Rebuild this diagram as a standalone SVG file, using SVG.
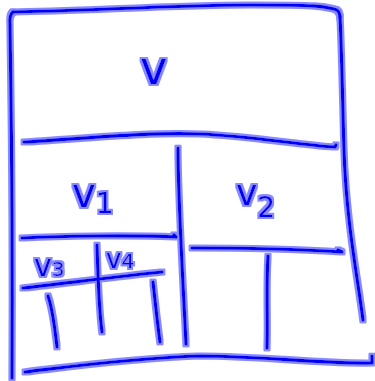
<svg xmlns="http://www.w3.org/2000/svg" width="375" height="381" viewBox="0 0 375 381">
<defs>
<filter id="glow" filterUnits="userSpaceOnUse" x="0" y="0" width="375" height="381">
<feMorphology in="SourceAlpha" operator="dilate" radius="2.2" result="d"/>
<feFlood flood-color="#8a8aff"/>
<feComposite in2="d" operator="in" result="h"/>
<feMerge><feMergeNode in="h"/><feMergeNode in="SourceGraphic"/></feMerge>
</filter>
</defs>
<style>
.ln{fill:none;stroke:#0000f5;stroke-width:3.2;stroke-linecap:round;stroke-linejoin:round}
.lb{font-family:"DejaVu Sans","Liberation Sans",sans-serif;fill:#0000f5}
</style>
<rect width="375" height="381" fill="#ffffff"/>
<g id="connectors" filter="url(#glow)">
<path class="ln" d="M13,12 C80,11 180,5 250,5 S322,6 334,9 Q340,10 340,18"/>
<path class="ln" d="M340,16 C342,60 343,120 344,150 C346,220 358,280 363,320"/>
<path class="ln" d="M13,12 Q9,15 10,25 C11,100 13,200 12,378"/>
<path class="ln" d="M24,142 C90,138 150,132 200,134 S300,145 335,147 L336,145"/>
<path class="ln" d="M178,148 C178,200 183,280 186,344"/>
<path class="ln" d="M22,238 C60,236 130,235 176,237 L174,235"/>
<path class="ln" d="M192,248 C250,248 310,250 342,252 L338,250"/>
<path class="ln" d="M268,256 C266,290 268,320 267,348"/>
<path class="ln" d="M97,245 C98,280 99,310 102,332"/>
<path class="ln" d="M23,288 C60,284 120,276 162,272"/>
<path class="ln" d="M48,296 C53,310 55,330 57,347"/>
<path class="ln" d="M153,282 C155,300 157,320 160,342"/>
<path class="ln" d="M25,372 C60,368 130,358 200,356 C260,356 320,364 372,363 L372,356"/>
</g>
<g id="node-v" filter="url(#glow)"><text class="lb" x="140" y="84" font-size="46">v</text></g>
<g id="node-v1" filter="url(#glow)"><text class="lb" x="72" y="207" font-size="40">v<tspan font-size="28" dy="6">1</tspan></text></g>
<g id="node-v2" filter="url(#glow)"><text class="lb" x="236" y="205" font-size="36">v<tspan font-size="28" dy="12">2</tspan></text></g>
<g id="node-v3" filter="url(#glow)"><text class="lb" x="34" y="276" font-size="30">v<tspan font-size="20">3</tspan></text></g>
<g id="node-v4" filter="url(#glow)"><text class="lb" x="106" y="268" font-size="26">v<tspan font-size="20">4</tspan></text></g>
</svg>
